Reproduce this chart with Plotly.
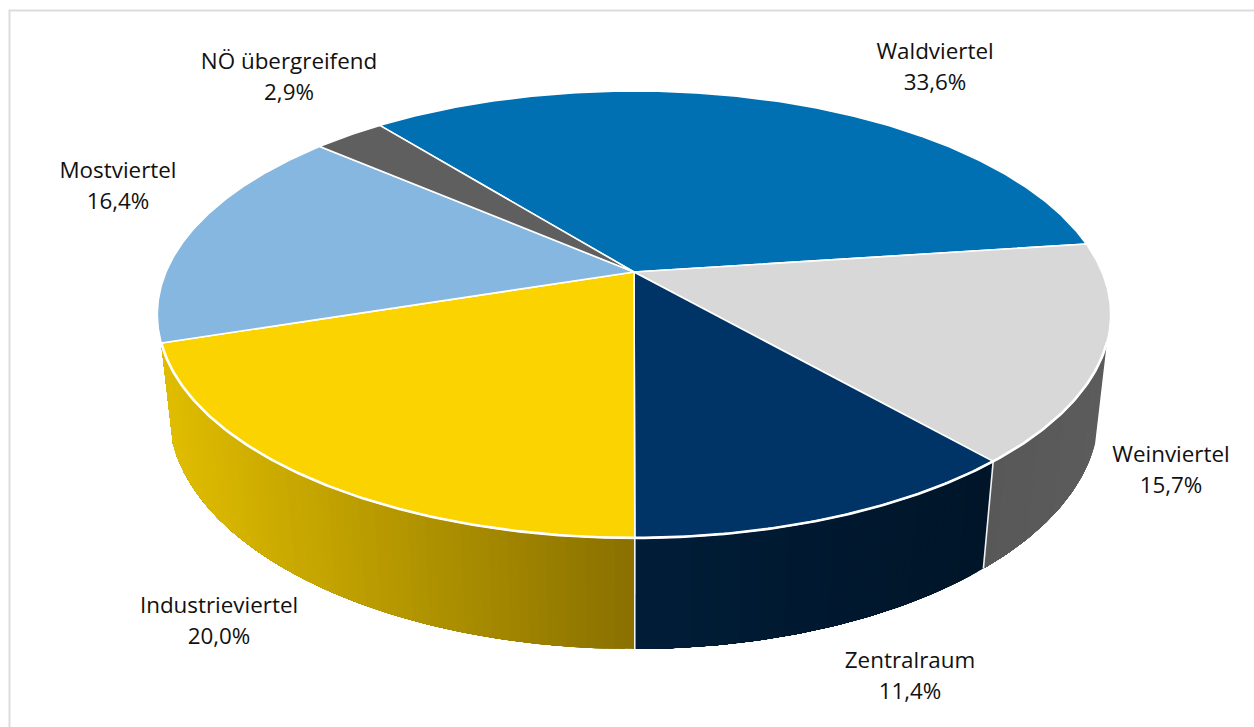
import math
import plotly.graph_objects as go

# ---- data ----
categories = ["Waldviertel", "Weinviertel", "Zentralraum", "Industrieviertel", "Mostviertel", "NÖ übergreifend"]
shares = [33.6, 15.7, 11.4, 20.0, 16.4, 2.9]
top_colors = ["#0070b3", "#d8d8d8", "#003366", "#fbd300", "#85b7e0", "#5f5f5f"]
# wall shading stops (left colour, right colour) per category; None = no visible wall
wall_left = [None, (88, 88, 88), (0, 29, 56), (224, 189, 0), None, None]
wall_right = [None, (92, 92, 92), (0, 21, 40), (137, 112, 0), None, None]
label_x = [935, 1171, 910, 219, 118, 289]
label_y = [53, 456, 662, 607, 172, 63]

# ---- projection of the tilted disc ----
CX, CY = 634, 272
A, B, K = 468, 215.4, 0.19
H, M = 99, 0.024
START = -38.6
WALL_FROM, WALL_TO = 108, 252


def project(angle_deg, r=1.0, z=0.0):
    t = math.radians(angle_deg)
    u, v = r * math.sin(t), -r * math.cos(t)
    w = 1 - K * v + M * z
    return CX + A * u / w, CY + (B * v + H * z) / w


def arc(a0, a1, z=0.0, step=0.5):
    n = max(2, int(abs(a1 - a0) / step) + 1)
    pts = [project(a0 + (a1 - a0) * i / (n - 1), 1.0, z) for i in range(n)]
    return [p[0] for p in pts], [p[1] for p in pts]


def lerp(c0, c1, f):
    return "rgb(%d,%d,%d)" % tuple(round(c0[i] + (c1[i] - c0[i]) * f) for i in range(3))


bounds = [START]
for s in shares:
    bounds.append(bounds[-1] + s * 3.6)

fig = go.Figure()

# outer walls: each strip reaches to the slice's far end, the next strip paints over it, so no seams show
for i, cat in enumerate(categories):
    if wall_left[i] is None:
        continue
    a0, a1 = max(bounds[i], WALL_FROM), min(bounds[i + 1], WALL_TO)
    n = int((a1 - a0) / 1.0) + 1
    xs_all = [project(a0 + (a1 - a0) * j / n)[0] for j in range(n + 1)]
    lo, hi = min(xs_all), max(xs_all)
    for j in range(n):
        b0, b1 = a0 + (a1 - a0) * j / n, a0 + (a1 - a0) * (j + 1) / n
        ux, uy = arc(b0, a1, 0.0)
        lx, ly = arc(a1, b0, 1.0)
        f = (project((b0 + b1) / 2)[0] - lo) / (hi - lo)
        col = lerp(wall_left[i], wall_right[i], f)
        fig.add_trace(go.Scatter(x=ux + lx + [ux[0]], y=uy + ly + [uy[0]], mode="lines", fill="toself",
                                 fillcolor=col, line=dict(width=0), hoverinfo="skip", showlegend=False))

# white dividers between the walls
for b in bounds:
    if WALL_FROM + 1 < b % 360 < WALL_TO - 1:
        p0, p1 = project(b), project(b, 1.0, 1.0)
        fig.add_trace(go.Scatter(x=[p0[0], p1[0]], y=[p0[1], p1[1]], mode="lines",
                                 line=dict(color="#f2f2f2", width=1.6), hoverinfo="skip", showlegend=False))

# top faces
for i, cat in enumerate(categories):
    ax, ay = arc(bounds[i], bounds[i + 1])
    fig.add_trace(go.Scatter(x=[CX] + ax + [CX], y=[CY] + ay + [CY], mode="lines", fill="toself",
                             fillcolor=top_colors[i], line=dict(color="white", width=1.6),
                             name=cat, hoverinfo="name", showlegend=False))

# white rim above the walls
rx, ry = arc(WALL_FROM, WALL_TO)
fig.add_trace(go.Scatter(x=rx, y=ry, mode="lines", line=dict(color="white", width=2.6),
                         hoverinfo="skip", showlegend=False))

# labels
font = dict(family="Open Sans", size=22.4, color="#111111")
fig.add_trace(go.Scatter(x=label_x, y=label_y, mode="text", text=categories, textposition="middle center",
                         textfont=font, hoverinfo="skip", showlegend=False))
fig.add_trace(go.Scatter(x=label_x, y=[y + 31.5 for y in label_y], mode="text",
                         text=[f"{s:.1f}%".replace(".", ",") for s in shares], textposition="middle center",
                         textfont=font, hoverinfo="skip", showlegend=False))

fig.update_layout(
    width=1254, height=727, margin=dict(l=0, r=0, t=0, b=0),
    paper_bgcolor="white", plot_bgcolor="white",
    xaxis=dict(range=[0, 1254], visible=False, fixedrange=True),
    yaxis=dict(range=[727, 0], visible=False, fixedrange=True),
    shapes=[dict(type="rect", x0=9.5, y0=10.5, x1=1300, y1=800, line=dict(color="#dcdcdc", width=2), layer="below")],
)
fig.write_html("out.html", config=dict(displayModeBar=False),
               post_script="document.body.style.margin='0';document.body.style.overflow='hidden';")
